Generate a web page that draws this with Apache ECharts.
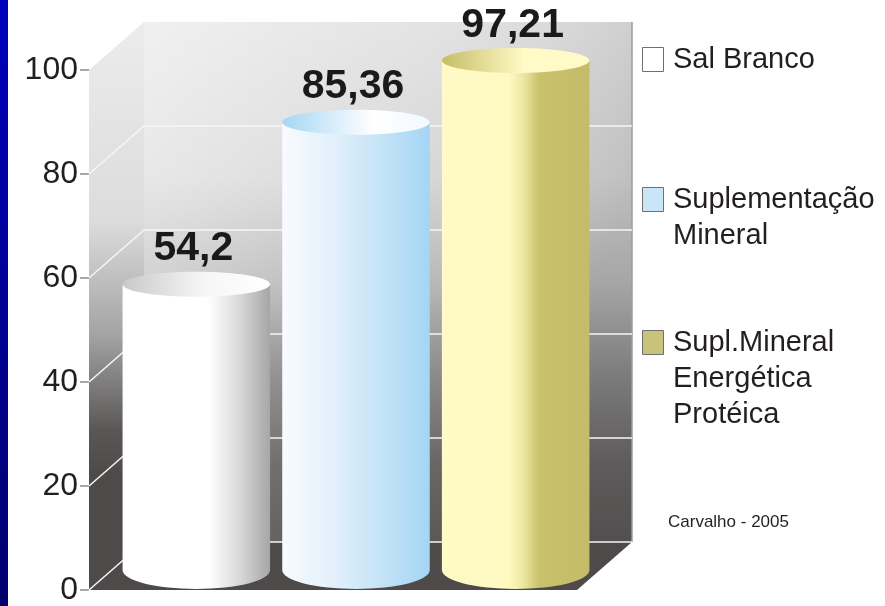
<!DOCTYPE html>
<html><head><meta charset="utf-8">
<script src="https://cdn.jsdelivr.net/npm/echarts/dist/echarts.min.js"></script>
<style>html,body{margin:0;padding:0;background:#fff}#c{width:885px;height:606px}</style>
</head><body><div id="c"></div>
<script>
// ---- data ----
const categories = ['Sal Branco', 'Suplementação\nMineral', 'Supl.Mineral\nEnergética\nProtéica'];
const values = [54.2, 85.36, 97.21];
const valueLabels = ['54,2', '85,36', '97,21'];
const yTicks = [0, 20, 40, 60, 80, 100];
const sourceText = 'Carvalho - 2005';

// ---- styles ----
const FONT = '"Liberation Sans", Arial, Helvetica, sans-serif';
const DX = 55, DY = -48, EXTRA = 9;
const bodyStops = [
  [[0,'#ffffff'],[0.58,'#ffffff'],[0.78,'#dcdcdc'],[1,'#a6a6a6']],
  [[0,'#f8fbff'],[0.35,'#e2f0fb'],[0.75,'#bde0f6'],[1,'#a4d5f3']],
  [[0,'#fffac6'],[0.45,'#fffac2'],[0.55,'#eee7a4'],[0.66,'#c9c16c'],[1,'#c4bc68']]
];
const topStops = [
  [[0,'#c9c9c9'],[0.55,'#f6f6f6'],[1,'#ffffff']],
  [[0,'#a6d6f4'],[0.62,'#ffffff'],[1,'#f2f9ff']],
  [[0,'#c5bd66'],[0.55,'#fffac6'],[1,'#fffbc8']]
];
const legendFill = ['#ffffff', '#c8e6f8', '#c8c27a'];
const legendY = [47, 187, 330];

function lin(x, y, x2, y2, stops) {
  return { type: 'linear', x: x, y: y, x2: x2, y2: y2,
    colorStops: stops.map(s => ({ offset: s[0], color: s[1] })) };
}

const chart = echarts.init(document.getElementById('c'), null, { renderer: 'canvas' });

const legendGraphics = [];
categories.forEach((name, i) => {
  legendGraphics.push({
    type: 'rect', left: 642, top: legendY[i],
    shape: { width: 21, height: 24 },
    style: { fill: legendFill[i], stroke: '#6f6f6f', lineWidth: 1 }
  });
  legendGraphics.push({
    type: 'text', x: 673, y: legendY[i] - 5,
    style: { text: name, font: '29px ' + FONT, fill: '#231f20',
      lineHeight: 36, verticalAlign: 'top', align: 'left' }
  });
});
legendGraphics.push({
  type: 'text', x: 668, y: 522,
  style: { text: sourceText, font: '17px ' + FONT, fill: '#231f20', verticalAlign: 'middle' }
});
legendGraphics.push({
  type: 'rect', left: 0, top: 0, z: 10,
  shape: { width: 8, height: 606 },
  style: { fill: lin(0, 0, 0, 1, [[0, '#0000bc'], [1, '#00006e']]) }
});

chart.setOption({
  animation: false,
  backgroundColor: '#ffffff',
  grid: { left: 89, right: 317, top: 70, bottom: 14, containLabel: false },
  xAxis: {
    type: 'category', data: categories,
    axisLine: { show: false }, axisTick: { show: false }, axisLabel: { show: false },
    splitLine: { show: false }
  },
  yAxis: {
    type: 'value', min: 0, max: 100, interval: 20,
    axisLine: { show: false },
    axisTick: { show: true, length: 9, lineStyle: { color: '#8a8a8a', width: 1.5 } },
    axisLabel: { fontSize: 32, color: '#231f20', fontFamily: FONT, margin: 11 },
    splitLine: { show: false }
  },
  graphic: legendGraphics,
  series: [
    {
      type: 'custom', name: 'walls', z: 1, silent: true,
      data: [[0, 0]],
      renderItem: function (params, api) {
        const cs = params.coordSys;
        const x0 = cs.x, x1 = cs.x + cs.width + EXTRA;
        const yTop = api.coord([0, 100])[1];
        const yBot = api.coord([0, 0])[1];
        const children = [];
        // back wall
        children.push({ type: 'rect',
          shape: { x: x0 + DX, y: yTop + DY, width: x1 - x0, height: yBot - yTop },
          style: { fill: lin(0, 0, 0, 1, [[0,'#e4e4e4'],[0.3,'#dadada'],[0.5,'#bdbdbd'],[0.68,'#8e8c8c'],[0.85,'#6a6767'],[1,'#5e5a5a']]) } });
        children.push({ type: 'rect',
          shape: { x: x0 + DX, y: yTop + DY, width: x1 - x0, height: yBot - yTop },
          style: { fill: lin(0, 0, 1, 0.3, [[0,'rgba(255,255,255,0.45)'],[0.45,'rgba(255,255,255,0.05)'],[1,'rgba(0,0,0,0.12)']]) } });
        // left wall
        children.push({ type: 'polygon',
          shape: { points: [[x0, yTop], [x0 + DX, yTop + DY], [x0 + DX, yBot + DY], [x0, yBot]] },
          style: { fill: lin(0, 0, 0, 1, [[0,'#ececec'],[0.35,'#dcdcdc'],[0.55,'#a4a4a4'],[0.72,'#5a5656'],[0.8,'#4e4a4a'],[1,'#4e4a4a']]) } });
        // floor
        children.push({ type: 'polygon',
          shape: { points: [[x0, yBot], [x0 + DX, yBot + DY], [x1 + DX, yBot + DY], [x1, yBot]] },
          style: { fill: '#4e4a49' } });
        // right edge of back wall
        children.push({ type: 'line',
          shape: { x1: x1 + DX, y1: yTop + DY, x2: x1 + DX, y2: yBot + DY },
          style: { stroke: '#9c9c9c', lineWidth: 1.5 } });
        // gridlines
        yTicks.forEach(t => {
          if (t === 100) return;
          const y = api.coord([0, t])[1];
          children.push({ type: 'polyline',
            shape: { points: [[x0, y], [x0 + DX, y + DY], [x1 + DX, y + DY]] },
            style: { stroke: '#f6f6f6', lineWidth: 1.5, fill: null } });
        });
        return { type: 'group', children: children };
      }
    },
    {
      type: 'custom', name: 'cylinders', z: 2,
      data: values.map((v, i) => [i, v]),
      renderItem: function (params, api) {
        const i = params.dataIndex;
        const top = api.coord([api.value(0), api.value(1)]);
        const base = api.coord([api.value(0), 0]);
        const band = api.size([1, 0])[0];
        const cx = top[0] + DX / 2;
        const rx = band * 0.462;
        const ty = top[1] + DY / 2;
        const by = base[1] + DY / 2 + 4;
        const ryT = 12.5, ryB = 19;
        const path = 'M' + (cx - rx) + ' ' + ty + ' L' + (cx - rx) + ' ' + by +
          ' A' + rx + ' ' + ryB + ' 0 0 0 ' + (cx + rx) + ' ' + by +
          ' L' + (cx + rx) + ' ' + ty + ' Z';
        return { type: 'group', children: [
          { type: 'path', shape: { pathData: path },
            style: { fill: lin(0, 0, 1, 0, bodyStops[i]) } },
          { type: 'ellipse', shape: { cx: cx, cy: ty, rx: rx, ry: ryT },
            style: { fill: lin(0, 0, 1, 0, topStops[i]) } },
          { type: 'text', x: cx - 3, y: ty - ryT - 2,
            style: { text: valueLabels[i], font: 'bold 41px ' + FONT, fill: '#1a1a1a',
              align: 'center', verticalAlign: 'bottom' } }
        ] };
      }
    }
  ]
});
</script></body></html>
